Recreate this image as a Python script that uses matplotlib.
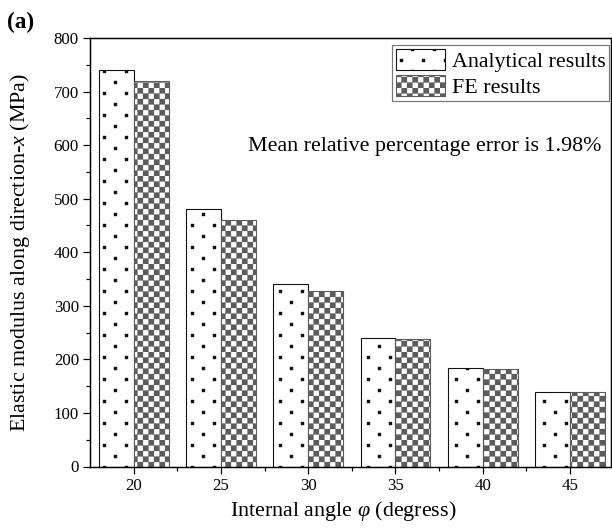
import numpy as np
import matplotlib
matplotlib.use('Agg')
import matplotlib.pyplot as plt
import matplotlib.hatch as mhatch
from matplotlib.path import Path
from matplotlib.ticker import MultipleLocator, FixedLocator

# ---------------- data ----------------
angles = ['20', '25', '30', '35', '40', '45']
analytical = [740, 480, 340, 240, 183, 140]
fe_results = [720, 460, 328, 238, 182, 140]
yticks = [0, 100, 200, 300, 400, 500, 600, 700, 800]
series_labels = ['Analytical results', 'FE results']
note = 'Mean relative percentage error is 1.98%'


# ---------------- custom hatch patterns ----------------
class DotLattice(mhatch.HatchPatternBase):
    def __init__(self, hatch, density):
        self.cols, self.rows = 4, 8
        self.num_vertices = (self.cols * self.rows * 5) if '.' in hatch else 0

    def set_vertices_and_codes(self, vertices, codes):
        h = 0.0175
        k = 0
        for r in range(self.rows):
            y = (r + 0.5) / self.rows
            for c in range(self.cols):
                x = (c + 0.25 + 0.5 * (r % 2)) / self.cols
                vertices[k:k + 5] = [[x - h, y - h], [x + h, y - h], [x + h, y + h],
                                     [x - h, y + h], [x - h, y - h]]
                codes[k:k + 5] = [Path.MOVETO, Path.LINETO, Path.LINETO,
                                  Path.LINETO, Path.CLOSEPOLY]
                k += 5


class Checker(mhatch.HatchPatternBase):
    def __init__(self, hatch, density):
        self.n = 16
        self.num_vertices = (self.n * self.n // 2 * 5) if 'o' in hatch else 0

    def set_vertices_and_codes(self, vertices, codes):
        s = 1.0 / self.n
        k = 0
        for i in range(self.n):
            for j in range(self.n):
                if (i + j) % 2 == 0:
                    x, y = i * s, j * s
                    vertices[k:k + 5] = [[x, y], [x + s, y], [x + s, y + s],
                                         [x, y + s], [x, y]]
                    codes[k:k + 5] = [Path.MOVETO, Path.LINETO, Path.LINETO,
                                      Path.LINETO, Path.CLOSEPOLY]
                    k += 5


mhatch._hatch_types = [DotLattice, Checker]

plt.rcParams['font.family'] = ['Liberation Serif', 'DejaVu Serif']
plt.rcParams['mathtext.fontset'] = 'custom'
plt.rcParams['mathtext.it'] = 'Liberation Serif:italic'
plt.rcParams['mathtext.rm'] = 'Liberation Serif'
plt.rcParams['hatch.linewidth'] = 0.2

DPI = 88
fig = plt.figure(figsize=(612 / DPI, 530 / DPI), dpi=DPI)
ax = fig.add_axes([90 / 612, 1 - 466.5 / 530, 521 / 612, 428.5 / 530])

x = np.arange(len(angles))
w = 0.4
ax.bar(x - w / 2, analytical, width=w, facecolor='white', edgecolor='#111111',
       hatch='.', linewidth=0.9, label=series_labels[0])
ax.bar(x + w / 2, fe_results, width=w, facecolor='white', edgecolor='#5c5c5c',
       hatch='o', linewidth=0.9, label=series_labels[1])

ax.set_xlim(-0.5, 5.47)
ax.set_ylim(0, 800)
ax.set_xticks(x)
ax.set_xticklabels(angles)
ax.xaxis.set_minor_locator(FixedLocator([0.5, 1.5, 2.5, 3.5, 4.5]))
ax.set_yticks(yticks)
ax.yaxis.set_minor_locator(MultipleLocator(50))

ax.tick_params(axis='both', which='major', direction='out', length=5.5, width=1.0,
               labelsize=13.8, pad=3.5, top=False, right=False)
ax.tick_params(axis='both', which='minor', direction='out', length=3.2, width=1.0,
               top=False, right=False)
for sp in ax.spines.values():
    sp.set_linewidth(1.2)

ax.set_xlabel(r'Internal angle $\varphi$ (degress)', fontsize=18)
ax.set_ylabel(r'Elastic modulus along direction-$x$ (MPa)', fontsize=18)
ax.xaxis.set_label_coords(0.486, -0.075)
ax.yaxis.set_label_coords(-0.112, 0.5)

ax.text(0.981, 0.746, note, transform=ax.transAxes, ha='right', va='center',
        fontsize=18)

leg = ax.legend(loc='upper right', bbox_to_anchor=(0.996, 0.983), borderaxespad=0,
                fontsize=18, handlelength=2.25, handleheight=1.1, labelspacing=0.15,
                handletextpad=0.3, borderpad=0.15, fancybox=False, framealpha=1)
leg.get_frame().set_edgecolor('#777777')
leg.get_frame().set_linewidth(1.0)

fig.text(0.012, 0.958, '(a)', fontsize=19, fontweight='bold', ha='left', va='center')

fig.savefig('out.png', dpi=DPI)
